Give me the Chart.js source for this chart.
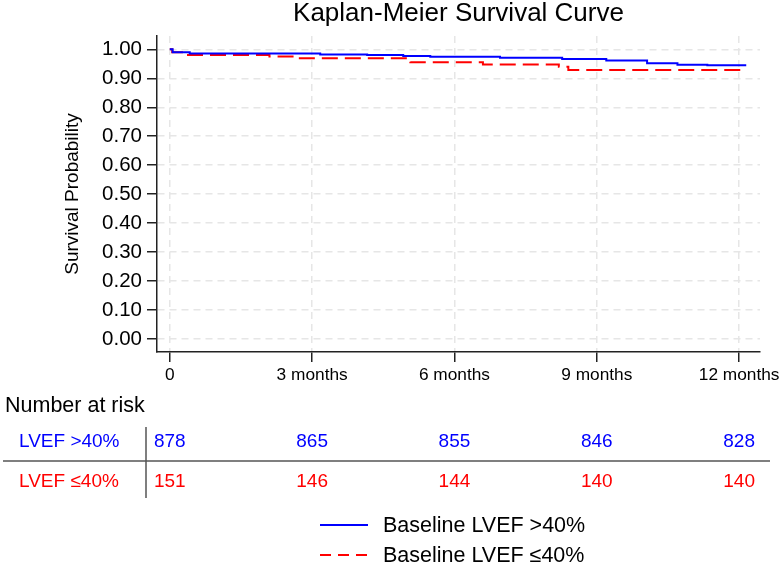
<!DOCTYPE html>
<html><head><meta charset="utf-8">
<script src="https://cdn.jsdelivr.net/npm/chart.js@4"></script>
<style>html,body{margin:0;padding:0;background:#fff}#wrap{width:782px;height:567px;position:relative}</style>
</head><body><div id="wrap"><canvas id="c" width="782" height="567"></canvas></div>
<script>
const FONT = "'Liberation Sans', Arial, Helvetica, sans-serif";
const chartTitle = 'Kaplan-Meier Survival Curve';
const yAxisTitle = 'Survival Probability';
const monthTicks = [0, 3, 6, 9, 12];
const monthLabels = ['0', '3 months', '6 months', '9 months', '12 months'];
const yTickValues = [0, 0.1, 0.2, 0.3, 0.4, 0.5, 0.6, 0.7, 0.8, 0.9, 1.0];
const seriesNames = ['Baseline LVEF >40%', 'Baseline LVEF \u226440%'];
const groupLabels = ['LVEF >40%', 'LVEF \u226440%'];
const riskTitle = 'Number at risk';
const highTime = [0, 0.06, 0.42, 3.17, 4.16, 4.92, 5.49, 6.96, 8.27, 9.2, 10.06, 10.7, 11.33, 12.15];
const highSurv = [1.0, 0.99, 0.986, 0.982, 0.980, 0.977, 0.974, 0.971, 0.967, 0.961, 0.952, 0.947, 0.945, 0.945];
const lowTime = [0, 0.05, 0.28, 2.1, 2.7, 5.07, 6.6, 8.2, 8.4, 12.15];
const lowSurv = [1.0, 0.99, 0.98, 0.975, 0.969, 0.955, 0.948, 0.94, 0.929, 0.929];
const riskHigh = [878, 865, 855, 846, 828];
const riskLow = [151, 146, 144, 140, 140];

const BLUE = '#0000ff', RED = '#ff0000';
const toPts = (t, s) => t.map((v, i) => ({x: v, y: s[i]}));

const riskPlugin = {
  id: 'riskTable',
  afterDraw(chart) {
    const ctx = chart.ctx;
    const xs = chart.scales.x;
    ctx.save();
    ctx.textBaseline = 'middle';
    ctx.fillStyle = '#000';
    ctx.font = '21.5px ' + FONT;
    ctx.textAlign = 'left';
    ctx.fillText(riskTitle, 5, 406);
    const rows = [riskHigh, riskLow];
    const colors = [BLUE, RED];
    const rowY = [442, 482];
    ctx.font = '19px ' + FONT;
    rows.forEach((r, ri) => {
      ctx.fillStyle = colors[ri];
      ctx.textAlign = 'left';
      ctx.fillText(groupLabels[ri], 19, rowY[ri]);
      ctx.textAlign = 'center';
      r.forEach((v, i) => ctx.fillText(String(v), xs.getPixelForValue(monthTicks[i]), rowY[ri]));
    });
    ctx.strokeStyle = '#555';
    ctx.lineWidth = 1.5;
    ctx.beginPath();
    ctx.moveTo(3, 461); ctx.lineTo(770, 461);
    ctx.moveTo(146, 427); ctx.lineTo(146, 498);
    ctx.stroke();
    // legend
    const legY = [525, 555];
    const dashes = [[], [11, 7]];
    ctx.lineWidth = 2;
    ctx.font = '21.5px ' + FONT;
    ctx.textAlign = 'left';
    seriesNames.forEach((n, i) => {
      ctx.strokeStyle = colors[i];
      ctx.setLineDash(dashes[i]);
      ctx.beginPath();
      ctx.moveTo(320, legY[i]); ctx.lineTo(368, legY[i]);
      ctx.stroke();
      ctx.setLineDash([]);
      ctx.fillStyle = '#000';
      ctx.fillText(n, 383, legY[i] + 1);
    });
    ctx.restore();
  }
};

new Chart(document.getElementById('c'), {
  type: 'scatter',
  data: {
    datasets: [
      {label: seriesNames[0], data: toPts(highTime, highSurv), showLine: true, stepped: true,
       borderColor: BLUE, borderWidth: 2, pointRadius: 0, fill: false},
      {label: seriesNames[1], data: toPts(lowTime, lowSurv), showLine: true, stepped: true,
       borderColor: RED, borderWidth: 2, borderDash: [16, 7], pointRadius: 0, fill: false}
    ]
  },
  options: {
    responsive: false,
    animation: false,
    devicePixelRatio: 1,
    layout: {padding: {left: 0, right: 22, top: 0, bottom: 0}},
    plugins: {
      legend: {display: false},
      tooltip: {enabled: false},
      title: {display: true, text: chartTitle, fullSize: false, color: '#000',
        font: {family: FONT, size: 26, weight: 'normal', lineHeight: 1.0}, padding: {top: 1, bottom: 9}}
    },
    scales: {
      x: {
        type: 'linear', min: -0.27, max: 12.44,
        afterBuildTicks: s => { s.ticks = monthTicks.map(v => ({value: v})); },
        afterFit: s => { s.height = 215; s.paddingLeft = 0; s.paddingRight = 0; },
        ticks: {callback: v => monthLabels[monthTicks.indexOf(v)], color: '#000', padding: 3,
          font: {family: FONT, size: 17.3}, maxRotation: 0, autoSkip: false},
        grid: {color: '#e6e6e6', lineWidth: 1.5, drawTicks: true, tickLength: 10, tickColor: '#222', tickWidth: 1.5, tickBorderDash: []},
        border: {display: true, color: '#222', width: 1.5, dash: [7, 5]}
      },
      y: {
        min: -0.045, max: 1.046,
        afterBuildTicks: s => { s.ticks = yTickValues.map(v => ({value: v})); },
        afterFit: s => { s.width = 157; s.paddingTop = 0; s.paddingBottom = 0; },
        ticks: {callback: v => v.toFixed(2), color: '#000', padding: 5, font: {family: FONT, size: 20.5}},
        grid: {color: '#e6e6e6', lineWidth: 1.5, drawTicks: true, tickLength: 10, tickColor: '#222', tickWidth: 1.5, tickBorderDash: []},
        border: {display: true, color: '#222', width: 1.5, dash: [7, 5]},
        title: {display: true, text: yAxisTitle, color: '#000', font: {family: FONT, size: 19}, padding: {top: 61, bottom: 0}}
      }
    }
  },
  plugins: [riskPlugin]
});
</script></body></html>
